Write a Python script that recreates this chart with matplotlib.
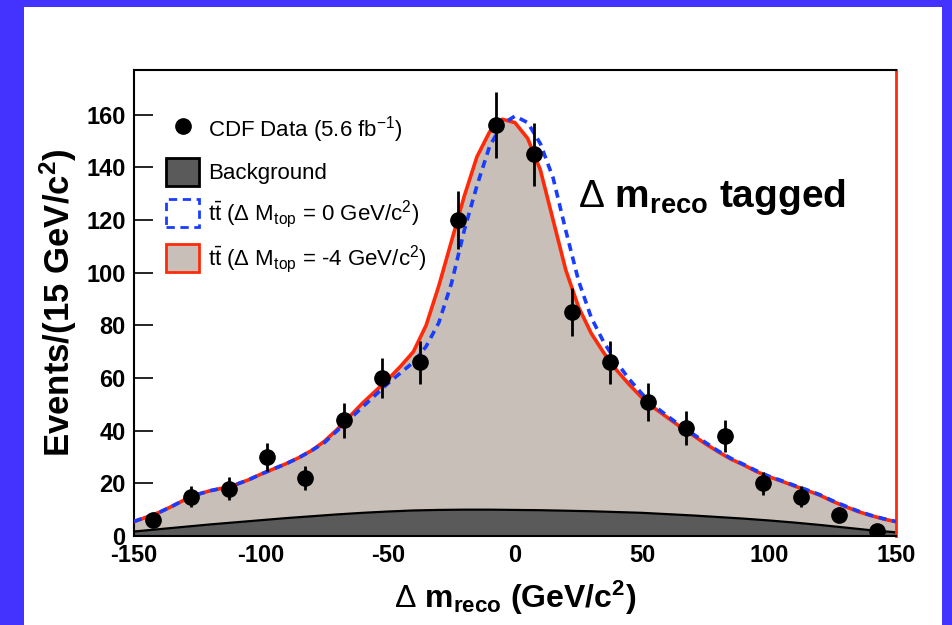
import numpy as np
import matplotlib
matplotlib.use("Agg")
import matplotlib.pyplot as plt
from matplotlib.patches import Patch, Rectangle
from matplotlib.lines import Line2D

plt.rcParams["font.family"] = ["Liberation Sans", "DejaVu Sans"]
plt.rcParams["mathtext.fontset"] = "custom"
plt.rcParams["mathtext.rm"] = "Liberation Sans"
plt.rcParams["mathtext.it"] = "Liberation Sans:italic"
plt.rcParams["mathtext.bf"] = "Liberation Sans:bold"
plt.rcParams["mathtext.sf"] = "Liberation Sans"
plt.rcParams["mathtext.default"] = "rm"
plt.rcParams["axes.unicode_minus"] = False

# --- measured data: bin centres (15 GeV/c^2 bins) and event counts ---
data_x = [-142.5, -127.5, -112.5, -97.5, -82.5, -67.5, -52.5, -37.5, -22.5, -7.5,
          7.5, 22.5, 37.5, 52.5, 67.5, 82.5, 97.5, 112.5, 127.5, 142.5]
data_y = [6, 15, 18, 30, 22, 44, 60, 66, 120, 156,
          145, 85, 66, 51, 41, 38, 20, 15, 8, 2]

# --- template curves sampled every 5 GeV/c^2 ---
curve_x = list(range(-150, 151, 5))
ttbar_m4 = [5.5, 7.2, 9.0, 11.3, 13.8, 15.8, 17.2, 18.2, 19.5, 21.3,
            23.5, 25.5, 27.5, 29.8, 32.5, 36.0, 40.5, 45.5, 50.5, 55.0,
            59.5, 64.5, 70.0, 80.0, 95.0, 112.0, 129.0, 144.0, 153.5, 158.3,
            157.0, 151.0, 139.0, 120.0, 101.0, 87.0, 77.0, 69.5, 63.0, 57.5,
            52.5, 48.5, 45.0, 41.5, 38.3, 35.0, 32.0, 29.2, 27.0, 24.5,
            22.5, 20.8, 19.0, 17.3, 15.5, 13.2, 11.2, 9.3, 7.8, 6.5, 5.4]
ttbar_0 = [5.5, 7.2, 9.0, 11.3, 13.8, 15.8, 17.2, 18.2, 19.5, 21.3,
           23.5, 25.5, 27.5, 29.8, 32.5, 35.5, 40.0, 44.5, 49.0, 53.5,
           58.0, 62.0, 66.0, 72.0, 81.0, 96.0, 116.0, 133.0, 148.0, 156.5,
           159.5, 157.0, 149.0, 136.0, 116.0, 97.0, 83.0, 73.5, 66.0, 59.5,
           54.0, 49.3, 45.6, 42.0, 38.8, 35.5, 32.3, 29.5, 27.2, 24.8,
           22.7, 21.0, 19.2, 17.5, 15.7, 13.4, 11.4, 9.5, 7.9, 6.6, 5.5]

bkg_x = list(range(-150, 151, 10))
bkg_y = [1.7, 2.6, 3.5, 4.4, 5.2, 6.0, 6.8, 7.5, 8.2, 8.8,
         9.3, 9.7, 9.9, 10.0, 10.0, 9.9, 9.8, 9.6, 9.4, 9.1,
         8.8, 8.3, 7.8, 7.2, 6.6, 5.9, 5.1, 4.2, 3.2, 2.2, 1.4]

x_ticks = [-150, -100, -50, 0, 50, 100, 150]
y_ticks = [0, 20, 40, 60, 80, 100, 120, 140, 160]

TAN = "#c8c0b8"
DARK = "#5a5a5a"
RED = "#ff2a0a"
BLUE = "#1a3cff"

fig = plt.figure(figsize=(9.52, 6.25), dpi=100)
fig.patch.set_facecolor("white")
ax = fig.add_axes([134 / 952, 1 - 536 / 625, 762 / 952, 466 / 625])

# signal + background (red template), background only
ax.fill_between(curve_x, ttbar_m4, 0, color=TAN, lw=0, zorder=1)
ax.fill_between(bkg_x, bkg_y, 0, color=DARK, lw=0, zorder=2)
ax.plot(bkg_x, bkg_y, color="black", lw=1.6, zorder=2.2)
ax.plot(curve_x, ttbar_m4, color=RED, lw=2.6, zorder=3, solid_joinstyle="round")
ax.plot(curve_x, ttbar_0, color=BLUE, lw=2.6, ls=(0, (2.2, 1.6)), zorder=3.2)

err = np.sqrt(data_y)
ax.errorbar(data_x, data_y, yerr=err, fmt="o", color="black", ms=11,
            elinewidth=2.0, capsize=0, zorder=5)

ax.set_xlim(-150, 150)
ax.set_ylim(0, 177)
ax.set_xticks(x_ticks)
ax.set_yticks(y_ticks)
ax.tick_params(axis="x", length=0, pad=6, labelsize=17)
ax.tick_params(axis="y", direction="in", length=14, width=1.2, pad=6, labelsize=17)
for lab in ax.get_xticklabels() + ax.get_yticklabels():
    lab.set_fontweight("bold")

for side in ("left", "top", "bottom"):
    ax.spines[side].set_linewidth(1.5)
    ax.spines[side].set_color("black")
ax.spines["right"].set_linewidth(2.0)
ax.spines["right"].set_color(RED)

ax.set_xlabel(r"$\Delta$ $\mathbf{m_{reco}}$ (GeV/c$^{\mathbf{2}}$)",
              fontsize=23, fontweight="bold", labelpad=8)
ax.set_ylabel(r"Events/(15 GeV/c$^{\mathbf{2}}$)", fontsize=25,
              fontweight="bold", labelpad=5)

ax.text(24.8, 125, r"$\Delta$ $\mathbf{m_{reco}}$ tagged", fontsize=28,
        fontweight="bold", ha="left", va="baseline", zorder=6)

handles = [
    Line2D([], [], marker="o", color="black", ls="none", ms=11),
    Patch(facecolor=DARK, edgecolor="black", lw=2),
    Patch(facecolor="white", edgecolor=BLUE, lw=2, ls=(0, (3, 2))),
    Patch(facecolor=TAN, edgecolor=RED, lw=2),
]
labels = [
    r"CDF Data (5.6 fb$^{-1}$)",
    "Background",
    r"t$\bar{\mathrm{t}}$ ($\Delta$ M$_{\mathrm{top}}$ = 0 GeV/c$^{2}$)",
    r"t$\bar{\mathrm{t}}$ ($\Delta$ M$_{\mathrm{top}}$ = -4 GeV/c$^{2}$)",
]
ax.legend(handles, labels, loc="upper left", bbox_to_anchor=(0.042, 0.905),
          frameon=False, fontsize=16, handlelength=1.5, handleheight=1.55,
          handletextpad=0.4, labelspacing=0.58, borderpad=0, borderaxespad=0)

# blue presentation frame
FRAME = "#4433ff"
fig.patches.append(Rectangle((0, 0), 24 / 952, 1, transform=fig.transFigure,
                             facecolor=FRAME, edgecolor="none", zorder=10))
fig.patches.append(Rectangle((0, 1 - 7 / 625), 1, 7 / 625, transform=fig.transFigure,
                             facecolor=FRAME, edgecolor="none", zorder=10))
fig.patches.append(Rectangle((942 / 952, 0), 10 / 952, 1, transform=fig.transFigure,
                             facecolor=FRAME, edgecolor="none", zorder=10))

fig.savefig("out.png", dpi=100)
